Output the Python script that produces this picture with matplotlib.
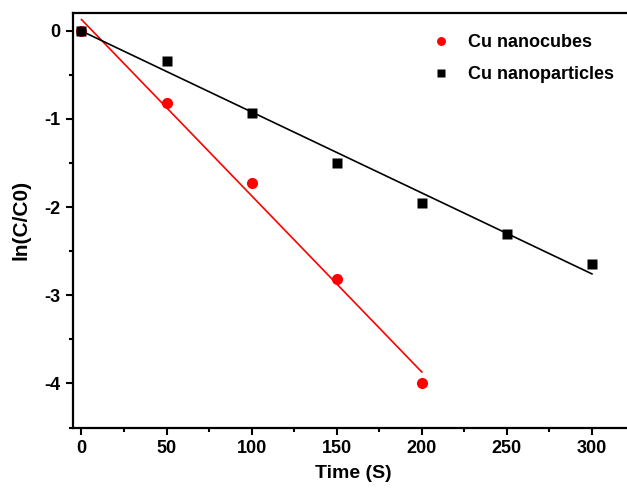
import matplotlib
matplotlib.use('Agg')
import matplotlib.pyplot as plt
import numpy as np
from matplotlib.ticker import MultipleLocator

plt.rcParams['font.family'] = ['Liberation Sans', 'DejaVu Sans']
plt.rcParams['font.weight'] = 'bold'
plt.rcParams['axes.unicode_minus'] = False

time = [0, 50, 100, 150, 200, 250, 300]
cubes_t = [0, 50, 100, 150, 200]
cubes = [0.0, -0.82, -1.73, -2.81, -4.00]
particles = [0.0, -0.345, -0.93, -1.50, -1.95, -2.30, -2.64]

fig = plt.figure(figsize=(6.27, 4.95), dpi=100)
ax = fig.add_axes([0.1164, 0.1362, 0.8955, 0.8375])

# linear fits
pc = np.polyfit(cubes_t, cubes, 1)
pp = np.polyfit(time, particles, 1)
xc = np.array([0, 200])
xp = np.array([0, 300])
ax.plot(xc, np.polyval(pc, xc), color='red', lw=1.2)
ax.plot(xp, np.polyval(pp, xp), color='black', lw=1.2)

ax.plot(cubes_t, cubes, 'o', color='red', ms=8, mec='none', label='Cu nanocubes')
ax.plot(time, particles, 's', color='black', ms=7, mec='none', label='Cu nanoparticles')

ax.set_xlim(-5, 325)
ax.set_ylim(-4.5, 0.2)
ax.xaxis.set_major_locator(MultipleLocator(50))
ax.xaxis.set_minor_locator(MultipleLocator(25))
ax.yaxis.set_major_locator(MultipleLocator(1))
ax.yaxis.set_minor_locator(MultipleLocator(0.5))
ax.tick_params(which='major', direction='out', length=5, width=1.5, labelsize=13, pad=4)
ax.tick_params(which='minor', direction='out', length=3, width=1.5)
for s in ax.spines.values():
    s.set_linewidth(1.6)

ax.set_xlabel('Time (S)', fontsize=14, fontweight='bold', labelpad=6)
ax.set_ylabel('ln(C/C0)', fontsize=15, fontweight='bold', labelpad=10)

leg = ax.legend(loc='upper left', bbox_to_anchor=(423 / 627, 1 - 25 / 495),
                bbox_transform=fig.transFigure, frameon=False, fontsize=13,
                handlelength=1.0, handletextpad=1.0, labelspacing=0.85,
                borderpad=0, markerscale=0.8)

fig.savefig('out.png', dpi=100)
